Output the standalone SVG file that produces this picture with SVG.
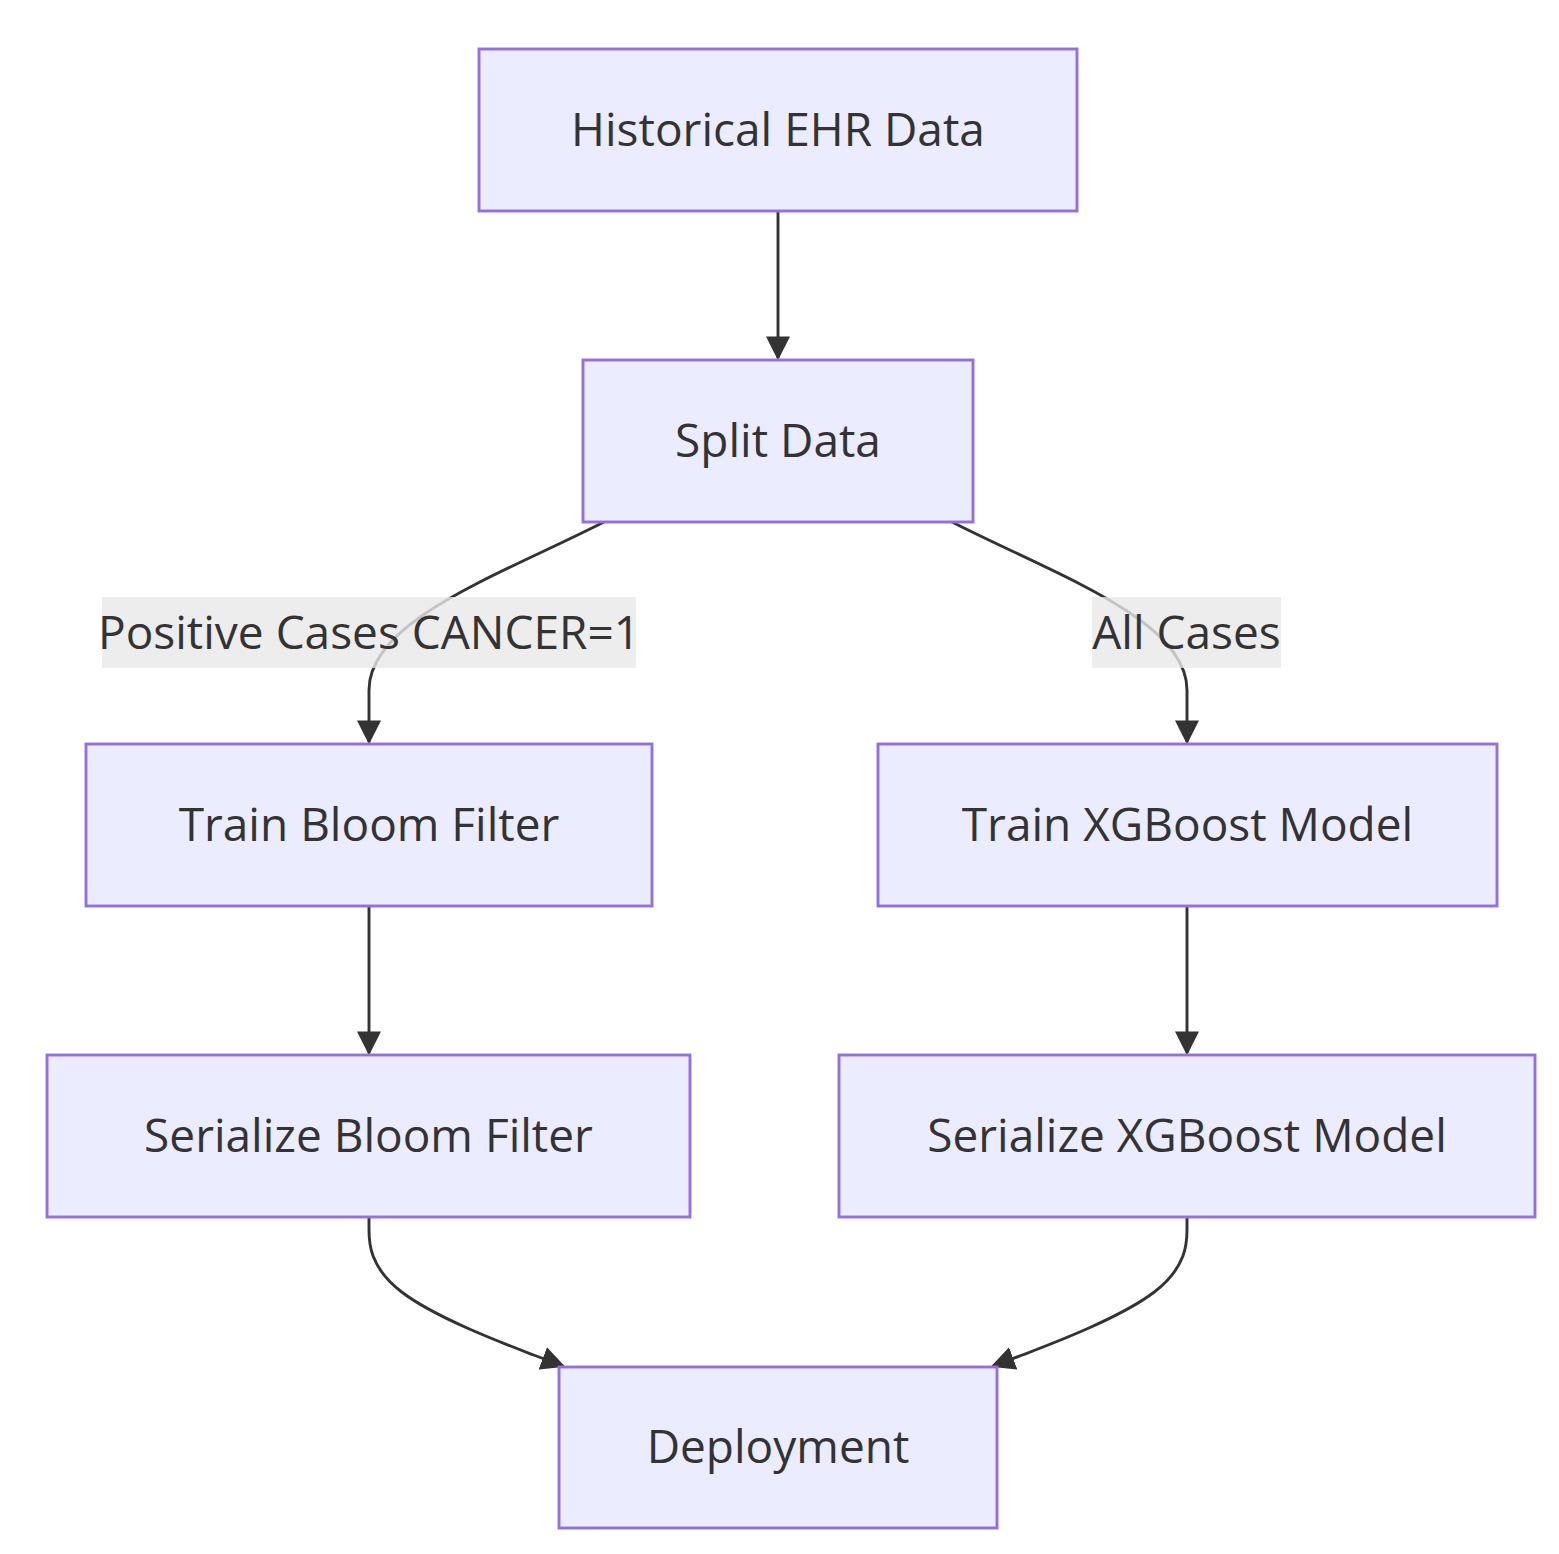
<svg xmlns="http://www.w3.org/2000/svg" width="1559" height="1554" viewBox="0 0 1559 1554">
<style>
.node rect{fill:#ECECFF;stroke:#9370DB;stroke-width:2.9}
.node text,.lbl text{font-family:"Trebuchet MS","Open Sans","DejaVu Sans",sans-serif;font-size:46px;fill:#333;text-anchor:middle}
.edge{fill:none;stroke:#333;stroke-width:2.9}
.lbl rect{fill:rgba(232,232,232,0.8)}
</style>
<defs>
<marker id="arr" markerUnits="userSpaceOnUse" markerWidth="24" markerHeight="24" viewBox="0 0 10 10" refX="9" refY="5" orient="auto">
<path d="M0,0 L10,5 L0,10 z" fill="#333"/>
</marker>
</defs>
<rect width="1559" height="1554" fill="#fff"/>
<g id="connectors">
<path class="edge" marker-end="url(#arr)" d="M778,211 L778,358"/>
<path class="edge" marker-end="url(#arr)" d="M604,522 C500,575 369,620 369,690 L369,742"/>
<path class="edge" marker-end="url(#arr)" d="M952,522 C1056,575 1187,620 1187,690 L1187,742"/>
<path class="edge" marker-end="url(#arr)" d="M369,906 L369,1053"/>
<path class="edge" marker-end="url(#arr)" d="M1187,906 L1187,1053"/>
<path class="edge" marker-end="url(#arr)" d="M369,1217 L369,1229.5 C369,1242 369,1267 401.7,1292 C434.3,1317 499.7,1342 532.3,1354.5 L563,1366"/>
<path class="edge" marker-end="url(#arr)" d="M1187,1217 L1187,1229.5 C1187,1242 1187,1267 1154.3,1292 C1121.7,1317 1056.3,1342 1023.7,1354.5 L993,1366"/>
<g class="lbl" id="label-positive">
<rect x="102" y="597" width="534" height="71"/>
<text x="369" y="649">Positive Cases CANCER=1</text>
</g>
<g class="lbl" id="label-all">
<rect x="1092" y="597" width="189" height="71"/>
<text x="1186.5" y="649">All Cases</text>
</g>
</g>
<g class="node" id="historical"><rect x="479" y="49" width="598" height="162"/><text x="778" y="146">Historical EHR Data</text></g>
<g class="node" id="split"><rect x="583" y="360" width="390" height="162"/><text x="778" y="457">Split Data</text></g>
<g class="node" id="trainBloom"><rect x="86" y="744" width="566" height="162"/><text x="369" y="841">Train Bloom Filter</text></g>
<g class="node" id="trainXGB"><rect x="878" y="744" width="619" height="162"/><text x="1187.5" y="841">Train XGBoost Model</text></g>
<g class="node" id="serBloom"><rect x="47" y="1055" width="643" height="162"/><text x="368.5" y="1152">Serialize Bloom Filter</text></g>
<g class="node" id="serXGB"><rect x="839" y="1055" width="696" height="162"/><text x="1187" y="1152">Serialize XGBoost Model</text></g>
<g class="node" id="deploy"><rect x="559" y="1367" width="438" height="161"/><text x="778" y="1463">Deployment</text></g>
</svg>
